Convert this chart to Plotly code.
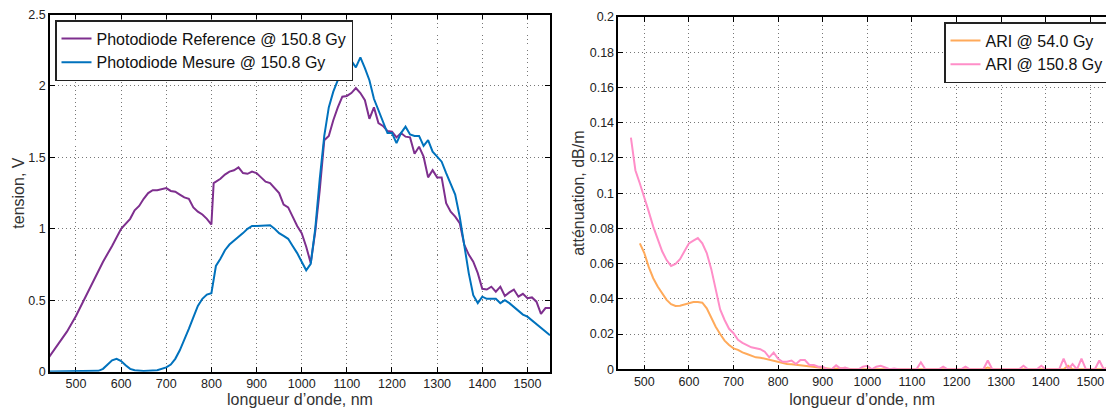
import plotly.graph_objects as go

# ---------- Left panel data ----------
wl_ref = [440, 460, 480, 500, 520, 540, 560, 580, 600, 620, 630, 640, 650, 660, 670, 680, 690, 700,
          710, 720, 730, 740, 750, 760, 770, 780, 790, 800, 805, 810, 820, 830, 840, 850,
          860, 870, 880, 890, 900, 910, 920, 930, 940, 950, 960, 970, 980, 990, 1000, 1010,
          1020, 1030, 1040, 1050, 1060, 1070, 1080, 1090, 1100, 1110, 1120, 1130, 1140, 1150,
          1160, 1170, 1180, 1190, 1200, 1210, 1220, 1230, 1240, 1250, 1260, 1270, 1280, 1290,
          1300, 1310, 1320, 1330, 1340, 1350, 1360, 1370, 1380, 1390, 1400, 1410, 1420, 1430,
          1440, 1450, 1460, 1470, 1480, 1490, 1500, 1510, 1520, 1530, 1540, 1550]
v_ref = [0.10, 0.19, 0.28, 0.39, 0.52, 0.64, 0.77, 0.88, 1.00, 1.07, 1.13, 1.16, 1.21, 1.25, 1.27, 1.27, 1.28, 1.285,
         1.265, 1.26, 1.24, 1.22, 1.21, 1.15, 1.12, 1.10, 1.07, 1.03, 1.32, 1.33, 1.35, 1.38, 1.40, 1.41,
         1.43, 1.39, 1.385, 1.40, 1.39, 1.36, 1.33, 1.32, 1.285, 1.25, 1.17, 1.15, 1.085, 1.02, 0.97, 0.875,
         0.76, 0.98, 1.27, 1.62, 1.65, 1.76, 1.85, 1.925, 1.93, 1.95, 1.985, 1.95, 1.90, 1.77,
         1.85, 1.74, 1.72, 1.685, 1.68, 1.64, 1.67, 1.645, 1.64, 1.525, 1.575, 1.505, 1.36, 1.41,
         1.36, 1.36, 1.18, 1.12, 1.085, 1.04, 0.89, 0.82, 0.77, 0.69, 0.58, 0.575, 0.595, 0.56,
         0.595, 0.53, 0.555, 0.575, 0.525, 0.545, 0.515, 0.52, 0.49, 0.405, 0.445, 0.445]

wl_mes = [440, 480, 520, 540, 550, 560, 570, 580, 590, 600, 610, 620, 630, 650, 680, 700,
          710, 720, 730, 740, 750, 760, 770, 780, 790, 800, 810, 820, 830, 840, 850, 860,
          870, 880, 890, 900, 920, 930, 940, 950, 960, 970, 980, 990, 1000, 1010, 1020, 1030,
          1040, 1050, 1060, 1070, 1080, 1090, 1100, 1110, 1120, 1130, 1140, 1150, 1160, 1170,
          1180, 1190, 1200, 1210, 1220, 1230, 1240, 1250, 1260, 1270, 1280, 1290, 1300, 1310,
          1320, 1330, 1340, 1350, 1360, 1370, 1380, 1390, 1400, 1410, 1420, 1430, 1440, 1450,
          1460, 1470, 1480, 1490, 1500, 1510, 1520, 1530, 1540, 1550]
v_mes = [0.002, 0.002, 0.003, 0.004, 0.006, 0.02, 0.05, 0.08, 0.09, 0.075, 0.045, 0.02, 0.01, 0.005, 0.01, 0.03,
         0.05, 0.09, 0.15, 0.22, 0.30, 0.38, 0.46, 0.51, 0.54, 0.55, 0.74, 0.79, 0.85, 0.89, 0.915, 0.94,
         0.97, 1.0, 1.02, 1.02, 1.025, 1.025, 1.0, 0.97, 0.95, 0.93, 0.88, 0.83, 0.77, 0.71, 0.755, 1.0,
         1.35, 1.65, 1.85, 1.96, 2.04, 2.09, 2.10, 2.175, 2.13, 2.20, 2.125, 2.04, 1.91, 1.83,
         1.76, 1.67, 1.67, 1.60, 1.67, 1.715, 1.66, 1.65, 1.65, 1.58, 1.62, 1.54, 1.505, 1.47,
         1.39, 1.32, 1.24, 1.085, 0.875, 0.69, 0.535, 0.48, 0.525, 0.51, 0.51, 0.51, 0.48, 0.50,
         0.48, 0.455, 0.43, 0.40, 0.385, 0.36, 0.33, 0.31, 0.28, 0.255]

# ---------- Right panel data ----------
wl_ari150 = [470, 480, 490, 500, 510, 520, 530, 540, 550, 560, 570, 580, 590, 600, 610, 620,
             630, 640, 650, 660, 670, 680, 690, 700, 710, 720, 730, 740, 750, 760, 770, 780,
             790, 800, 810, 820, 830, 840, 850, 860, 870, 880, 890, 900, 910, 920, 930, 940,
             950, 960, 980, 990, 1000, 1010, 1020, 1030, 1040, 1050, 1060, 1070, 1110, 1120,
             1130, 1160, 1170, 1180, 1210, 1220, 1230, 1260, 1270, 1280, 1340, 1350, 1360,
             1380, 1390, 1400, 1430, 1440, 1450, 1460, 1470, 1480, 1490, 1510, 1520, 1530, 1540]
a_ari150 = [0.1315, 0.113, 0.1055, 0.098, 0.0895, 0.081, 0.0735, 0.067, 0.062, 0.0587, 0.0598, 0.0625, 0.067, 0.0715, 0.073, 0.0745,
            0.0715, 0.066, 0.057, 0.045, 0.034, 0.028, 0.023, 0.0205, 0.0167, 0.015, 0.0136, 0.0125, 0.012, 0.0114, 0.010, 0.0068,
            0.0095, 0.006, 0.0043, 0.0043, 0.005, 0.003, 0.0053, 0.0053, 0.0025, 0.0025, 0.0015, 0.0015, 0.0, 0.0, 0.0023, 0.0004,
            0.001, 0.0, 0.0, 0.0015, 0.002, 0.0, 0.0015, 0.002, 0.001, 0.0, 0.0005, 0.0, 0.0, 0.004,
            0.0, 0.0, 0.0015, 0.0, 0.0, 0.0015, 0.0, 0.0, 0.005, 0.0, 0.0, 0.002, 0.0,
            0.0, 0.002, 0.0, 0.0, 0.006, 0.0, 0.003, 0.0, 0.006, 0.0, 0.0, 0.005, 0.0, 0.001]

wl_ari54 = [490, 500, 510, 520, 530, 540, 550, 560, 570, 580, 590, 600, 610, 620, 630, 640,
            650, 660, 670, 680, 690, 700, 710, 720, 730, 740, 750, 760, 770, 780, 790, 800,
            810, 820, 830, 840, 850, 860, 870, 880, 890, 900, 920, 940, 960, 970, 1260, 1270,
            1280, 1440, 1450, 1460, 1530, 1540]
a_ari54 = [0.0715, 0.066, 0.058, 0.0517, 0.047, 0.0428, 0.0394, 0.037, 0.036, 0.0361, 0.0367, 0.0375, 0.0382, 0.0382, 0.0378, 0.0346,
           0.029, 0.0242, 0.020, 0.0163, 0.0138, 0.0119, 0.011, 0.0096, 0.0087, 0.0076, 0.0068, 0.0066, 0.006, 0.0053, 0.0049, 0.0042,
           0.0034, 0.003, 0.0028, 0.0025, 0.002, 0.0019, 0.0015, 0.0011, 0.0008, 0.0006, 0.0002, 0.0006, 0.0003, 0.0, 0.0, 0.001,
           0.0, 0.0, 0.002, 0.0, 0.0, 0.001]

x_ticks = [500, 600, 700, 800, 900, 1000, 1100, 1200, 1300, 1400, 1500]

W, H = 1106, 408
PURPLE = "#7E2F8E"
BLUE = "#0072BD"
ORANGE = "#FFAA5A"
PINK = "#FF8EC8"
FONT = "Liberation Sans, Arial, sans-serif"

fig = go.Figure()
fig.add_trace(go.Scatter(x=wl_ref, y=v_ref, mode="lines", name="Photodiode Reference @ 150.8 Gy",
                         line=dict(color=PURPLE, width=2), xaxis="x", yaxis="y", legend="legend"))
fig.add_trace(go.Scatter(x=wl_mes, y=v_mes, mode="lines", name="Photodiode Mesure @ 150.8 Gy",
                         line=dict(color=BLUE, width=2), xaxis="x", yaxis="y", legend="legend"))
fig.add_trace(go.Scatter(x=wl_ari54, y=a_ari54, mode="lines", name="ARI @ 54.0 Gy",
                         line=dict(color=ORANGE, width=2), xaxis="x2", yaxis="y2", legend="legend2"))
fig.add_trace(go.Scatter(x=wl_ari150, y=a_ari150, mode="lines", name="ARI @ 150.8 Gy",
                         line=dict(color=PINK, width=2), xaxis="x2", yaxis="y2", legend="legend2"))

axis_common = dict(showline=True, linecolor="black", linewidth=1.5, ticks="inside", ticklen=5,
                   tickcolor="black", showgrid=True, gridcolor="#777777", griddash="1px,3px", gridwidth=1,
                   zeroline=False, automargin=False,
                   tickfont=dict(size=12.5, color="#222", family=FONT),
                   title_font=dict(size=16, color="#333", family=FONT))

fig.update_layout(
    width=W, height=H, margin=dict(l=0, r=0, t=0, b=0, autoexpand=False),
    paper_bgcolor="white", plot_bgcolor="white",
    font=dict(family=FONT),
    showlegend=True,
    xaxis=dict(domain=[50 / W, 550 / W], range=[442.5, 1550], tickvals=x_ticks, mirror="ticks",
               anchor="y", title=dict(text="longueur d’onde, nm", standoff=7), layer="below traces",
               **axis_common),
    yaxis=dict(domain=[1 - 371.7 / H, 1 - 14.5 / H], range=[0, 2.5], dtick=0.5, mirror="ticks",
               anchor="x", title=dict(text="tension, V", standoff=0), layer="below traces",
               **axis_common),
    xaxis2=dict(domain=[618.3 / W, 1.0], range=[441.7, 1535], tickvals=x_ticks, mirror="ticks",
                anchor="y2", title=dict(text="longueur d’onde, nm", standoff=7), layer="above traces",
                **axis_common),
    yaxis2=dict(domain=[1 - 369.3 / H, 1 - 17 / H], range=[0, 0.2], dtick=0.02, mirror=False,
                anchor="x2", title=dict(text="atténuation, dB/m", standoff=1), layer="above traces",
                **axis_common),
    legend=dict(x=55 / W, y=1 - 20 / H, xanchor="left", yanchor="top", bgcolor="white",
                bordercolor="#222", borderwidth=1.5, font=dict(size=16, color="#111", family=FONT),
                tracegroupgap=0, itemwidth=30),
    legend2=dict(x=944 / W, y=1 - 22 / H, xanchor="left", yanchor="top", bgcolor="white",
                 bordercolor="#222", borderwidth=1.5, font=dict(size=16, color="#111", family=FONT),
                 tracegroupgap=0, itemwidth=30),
)

fig.write_html("out.html", config={"displayModeBar": False},
               post_script="document.body.style.margin='0';document.body.style.overflow='hidden';")
